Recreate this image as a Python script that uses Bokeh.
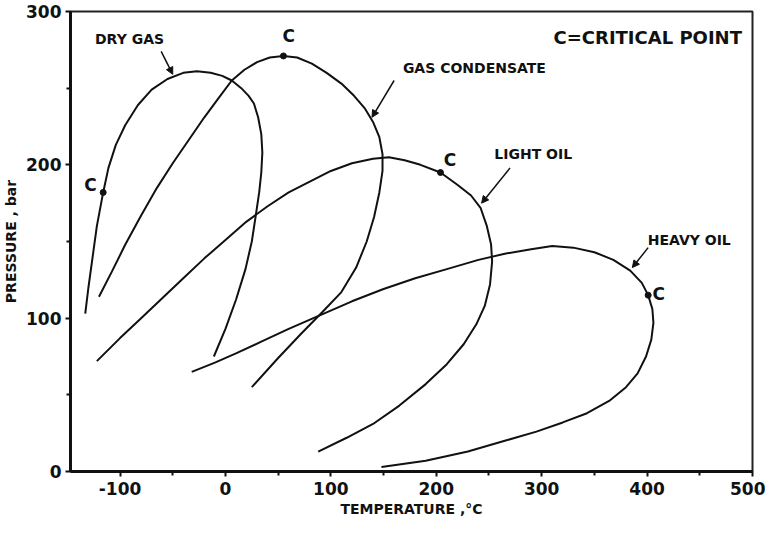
from bokeh.plotting import figure
from bokeh.models import Range1d, FixedTicker, Arrow, NormalHead, Label
from bokeh.embed import file_html
from bokeh.resources import INLINE

# ---- data (temperature °C, pressure bar) ----
dry_gas_t = [-133, -130, -126, -122, -116, -111, -104, -95, -83, -70, -55, -40, -27, -14, -3, 6, 15, 22, 27, 31, 34, 35, 34, 32, 29, 25, 19, 10, 0, -11]
dry_gas_p = [103, 120, 140, 160, 182, 198, 213, 226, 239, 249, 256, 260, 261, 260, 258, 255, 250, 245, 240, 231, 220, 208, 195, 182, 168, 150, 132, 112, 93, 75]

gas_cond_t = [-120, -108, -95, -80, -65, -50, -35, -20, -6, 6, 18, 30, 42, 55, 68, 82, 96, 110, 122, 132, 140, 146, 149, 149, 146, 141, 134, 124, 110, 92, 72, 50, 25]
gas_cond_p = [114, 130, 148, 167, 185, 201, 216, 231, 244, 255, 262, 267, 270, 271, 270, 266, 260, 253, 245, 237, 228, 218, 207, 196, 182, 166, 150, 133, 117, 104, 90, 74, 55]

light_oil_t = [-122, -100, -80, -60, -40, -20, 0, 20, 40, 60, 80, 100, 120, 140, 155, 170, 185, 204, 220, 233, 242, 248, 252, 253, 251, 246, 238, 226, 210, 190, 165, 140, 115, 88]
light_oil_p = [72, 87, 100, 113, 126, 139, 151, 163, 173, 182, 189, 196, 201, 204, 205, 203, 200, 195, 187, 180, 172, 160, 148, 137, 122, 108, 96, 83, 70, 57, 43, 31, 22, 13]

heavy_oil_t = [-32, -10, 10, 35, 60, 90, 120, 150, 180, 210, 240, 265, 290, 310, 330, 350, 368, 384, 395, 401, 405, 406, 404, 399, 391, 380, 364, 343, 320, 295, 265, 230, 190, 148]
heavy_oil_p = [65, 71, 77, 85, 93, 102, 111, 119, 126, 132, 138, 142, 145, 147, 146, 143, 138, 131, 123, 115, 106, 97, 86, 75, 64, 55, 46, 38, 32, 26, 20, 13, 7, 3]

crit_t = [-116, 55, 204, 401]
crit_p = [182, 271, 195, 115]

x_ticks = [-100, 0, 100, 200, 300, 400, 500]
x_minor = [-150, -50, 50, 150, 250, 350, 450]
y_ticks = [0, 100, 200, 300]
y_minor = [50, 150, 250]

FONT = "DejaVu Sans"
INK = "#111111"

p = figure(width=765, height=524, x_range=Range1d(-147, 500), y_range=Range1d(0, 300),
           output_backend="svg", toolbar_location=None,
           min_border_left=69, min_border_right=13, min_border_top=11, min_border_bottom=53)
p.background_fill_color = "white"
p.border_fill_color = "white"
p.xgrid.visible = False
p.ygrid.visible = False
p.outline_line_color = "#222222"
p.outline_line_width = 2

p.xaxis.ticker = FixedTicker(ticks=x_ticks, minor_ticks=x_minor)
p.yaxis.ticker = FixedTicker(ticks=y_ticks, minor_ticks=y_minor)
p.xaxis.major_label_overrides = {t: str(t) for t in x_ticks}
p.yaxis.major_label_overrides = {t: str(t) for t in y_ticks}
for ax in (p.xaxis, p.yaxis):
    ax.axis_line_width = 3
    ax.axis_line_color = INK
    ax.major_tick_line_width = 2
    ax.major_tick_line_color = INK
    ax.major_tick_in = 0
    ax.major_tick_out = 5
    ax.minor_tick_line_width = 2
    ax.minor_tick_line_color = INK
    ax.minor_tick_in = 0
    ax.minor_tick_out = 4
    ax.major_label_text_font = FONT
    ax.major_label_text_font_style = "bold"
    ax.major_label_text_font_size = "17px"
    ax.major_label_text_color = INK
    ax.axis_label_text_font = FONT
    ax.axis_label_text_font_style = "bold"
    ax.axis_label_text_font_size = "14px"
    ax.axis_label_text_color = INK
p.xaxis.major_label_standoff = 5
p.yaxis.major_label_standoff = 4
p.xaxis.axis_label = "TEMPERATURE ,°C"
p.yaxis.axis_label = "PRESSURE , bar"
p.xaxis.axis_label_standoff = 3
p.yaxis.axis_label_standoff = 4

for xs, ys in ((dry_gas_t, dry_gas_p), (gas_cond_t, gas_cond_p),
               (light_oil_t, light_oil_p), (heavy_oil_t, heavy_oil_p)):
    p.line(xs, ys, line_color=INK, line_width=2)

p.scatter(crit_t, crit_p, size=6, color=INK)

def label(x, y, text, size="14px", align="center"):
    p.add_layout(Label(x=x, y=y, text=text, text_font=FONT, text_font_style="bold",
                       text_font_size=size, text_color=INK, text_align=align,
                       text_baseline="middle"))

label(-91, 282, "DRY GAS", "14px")
label(304, 263, "GAS CONDENSATE", "14px", "right")
label(292, 207, "LIGHT OIL", "14px")
label(440, 151, "HEAVY OIL", "14px")
label(490, 283, "C=CRITICAL POINT", "18px", "right")
label(-128, 187, "C", "17px")
label(60, 284, "C", "17px")
label(213, 203, "C", "17px")
label(411, 116, "C", "17px")

def arrow(x0, y0, x1, y1):
    p.add_layout(Arrow(end=NormalHead(size=7, fill_color=INK, line_color=INK),
                       x_start=x0, y_start=y0, x_end=x1, y_end=y1,
                       line_color=INK, line_width=1.5))

arrow(-61, 274, -50, 259)
arrow(160, 255, 139, 231)
arrow(270, 198, 243, 175)
arrow(401, 146, 386, 133)

open("out.html", "w").write(file_html(p, INLINE))
